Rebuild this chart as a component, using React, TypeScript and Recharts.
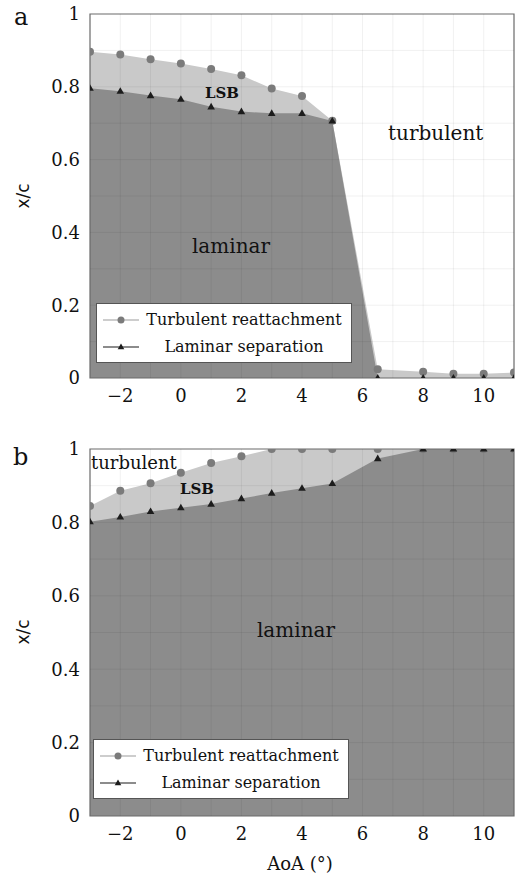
import React from "react";
import {
  ComposedChart,
  Area,
  Line,
  XAxis,
  YAxis,
  ReferenceLine,
  ReferenceArea,
} from "recharts";

// ── data ───────────────────────────────────────
const aoa = [-3, -2, -1, 0, 1, 2, 3, 4, 5, 6.5, 8, 9, 10, 11];

// panel a
const reattachA = [0.896, 0.889, 0.876, 0.864, 0.849, 0.832, 0.795, 0.775, 0.707, 0.024, 0.017, 0.012, 0.012, 0.015];
const separationA = [0.796, 0.788, 0.776, 0.766, 0.745, 0.732, 0.727, 0.727, 0.706, 0, 0, 0, 0, 0];

// panel b
const reattachB = [0.845, 0.886, 0.907, 0.935, 0.962, 0.98, 1, 1, 1, 1, 1, 1, 1, 1];
const separationB = [0.802, 0.815, 0.83, 0.84, 0.85, 0.865, 0.88, 0.893, 0.906, 0.974, 1, 1, 1, 1];

const xTicks = [-2, 0, 2, 4, 6, 8, 10];
const yTicks = [0, 0.2, 0.4, 0.6, 0.8, 1];
const gridX = [-2, -1, 0, 1, 2, 3, 4, 5, 6, 7, 8, 9, 10];
const gridY = [0.1, 0.2, 0.3, 0.4, 0.5, 0.6, 0.7, 0.8, 0.9];

const LIGHT = "#c9c9c9";
const DARK = "#8c8c8c";
const SERIF = "'DejaVu Serif', serif";

const build = (re: number[], sep: number[]) =>
  aoa.map((x, i) => ({ aoa: x, reattach: re[i], separation: sep[i] }));

const fmtX = (v: number) => (v < 0 ? `\u2212${-v}` : `${v}`);

function XTick(props: any) {
  const { x, y, payload } = props;
  return (
    <text x={x} y={y + 8} dy="0.75em" textAnchor="middle" fontSize={18} fill="#111" style={{ fontFamily: SERIF }}>
      {fmtX(payload.value)}
    </text>
  );
}

function YTick(props: any) {
  const { x, y, payload } = props;
  return (
    <text x={x - 8} y={y} dy="0.36em" textAnchor="end" fontSize={18} fill="#111" style={{ fontFamily: SERIF }}>
      {`${payload.value}`}
    </text>
  );
}

function CircleDot(props: any) {
  const { cx, cy, index } = props;
  if (cx == null || cy == null) return null;
  return <circle key={`c${index}`} cx={cx} cy={cy} r={4} fill="#7b7b7b" />;
}

function TriDot(props: any) {
  const { cx, cy, index } = props;
  if (cx == null || cy == null) return null;
  return (
    <path
      key={`t${index}`}
      d={`M${cx},${cy - 4} L${cx + 3.8},${cy + 2.6} L${cx - 3.8},${cy + 2.6} Z`}
      fill="#1c1c1c"
    />
  );
}

function Panel({
  data,
  height,
  marginTop,
  xAxisHeight,
}: {
  data: any[];
  height: number;
  marginTop: number;
  xAxisHeight: number;
}) {
  return (
    <ComposedChart
      width={516}
      height={height}
      data={data}
      margin={{ top: marginTop, right: 2, left: 0, bottom: 0 }}
    >
      <XAxis
        dataKey="aoa"
        type="number"
        domain={[-3, 11]}
        ticks={xTicks}
        allowDataOverflow
        axisLine={false}
        tickLine={false}
        tickSize={0}
        tick={<XTick />}
        height={xAxisHeight}
      />
      <YAxis
        type="number"
        domain={[0, 1]}
        ticks={yTicks}
        allowDataOverflow
        axisLine={false}
        tickLine={false}
        tickSize={0}
        width={90}
        tick={<YTick />}
      />

      <Area
        type="linear"
        dataKey="reattach"
        stroke="none"
        fill={LIGHT}
        fillOpacity={1}
        dot={false}
        activeDot={false}
        isAnimationActive={false}
      />
      <Area
        type="linear"
        dataKey="separation"
        stroke="none"
        fill={DARK}
        fillOpacity={1}
        dot={false}
        activeDot={false}
        isAnimationActive={false}
      />

      {gridX.map((g) => (
        <ReferenceLine key={`gx${g}`} x={g} stroke="#000" strokeOpacity={0.06} />
      ))}
      {gridY.map((g) => (
        <ReferenceLine key={`gy${g}`} y={g} stroke="#000" strokeOpacity={0.06} />
      ))}
      <ReferenceArea x1={-3} x2={11} y1={0} y2={1} fill="none" stroke="#6a6a6a" strokeWidth={1.2} />

      <Line
        type="linear"
        dataKey="reattach"
        stroke="none"
        dot={<CircleDot />}
        activeDot={false}
        isAnimationActive={false}
      />
      <Line
        type="linear"
        dataKey="separation"
        stroke="none"
        dot={<TriDot />}
        activeDot={false}
        isAnimationActive={false}
      />
    </ComposedChart>
  );
}

function LegendBox({ left, top }: { left: number; top: number }) {
  const row = (label: string, lineColor: string, marker: React.ReactNode) => (
    <div style={{ display: "flex", alignItems: "center", height: 27 }}>
      <svg width={40} height={14} style={{ flexShrink: 0 }}>
        <line x1={2} y1={7} x2={38} y2={7} stroke={lineColor} strokeWidth={1.5} />
        {marker}
      </svg>
      <div style={{ flex: 1, textAlign: "center", whiteSpace: "nowrap" }}>{label}</div>
    </div>
  );
  return (
    <div
      style={{
        position: "absolute",
        left,
        top,
        width: 256,
        height: 60,
        boxSizing: "border-box",
        border: "1px solid #555",
        background: "#fff",
        padding: "2px 4px 0 4px",
        fontFamily: SERIF,
        fontSize: 16,
        color: "#111",
        lineHeight: "27px",
      }}
    >
      {row("Turbulent reattachment", "#bdbdbd", <circle cx={20} cy={7} r={3.5} fill="#7b7b7b" />)}
      {row("Laminar separation", "#666", <path d="M20,3.5 L23.3,9.3 L16.7,9.3 Z" fill="#1c1c1c" />)}
    </div>
  );
}

export default function App() {
  const dataA = build(reattachA, separationA);
  const dataB = build(reattachB, separationB);
  const txt = { fill: "#111", style: { fontFamily: SERIF } } as const;

  return (
    <div style={{ position: "absolute", left: 0, top: 0, width: 516, height: 877, background: "#fff", fontFamily: SERIF }}>
      <div style={{ position: "absolute", left: 0, top: 0 }}>
        <Panel data={dataA} height={410} marginTop={14} xAxisHeight={32} />
      </div>
      <div style={{ position: "absolute", left: 0, top: 420 }}>
        <Panel data={dataB} height={457} marginTop={29} xAxisHeight={61} />
      </div>

      <LegendBox left={96} top={303} />
      <LegendBox left={93} top={739} />

      {/* annotations */}
      <svg width={516} height={877} style={{ position: "absolute", left: 0, top: 0, pointerEvents: "none" }}>
        <text x={14} y={25} fontSize={24} {...txt}>a</text>
        <text x={13} y={465} fontSize={24} {...txt}>b</text>

        <text x={23} y={196} transform="rotate(-90 23 196)" textAnchor="middle" dominantBaseline="central"
          fontSize={17} fill="#111" style={{ fontFamily: "'DejaVu Sans', sans-serif" }}>x/c</text>
        <text x={23} y={632} transform="rotate(-90 23 632)" textAnchor="middle" dominantBaseline="central"
          fontSize={17} fill="#111" style={{ fontFamily: "'DejaVu Sans', sans-serif" }}>x/c</text>

        <text x={388} y={140} fontSize={20} {...txt}>turbulent</text>
        <text x={231} y={253} fontSize={20} textAnchor="middle" {...txt}>laminar</text>
        <text x={222} y={98} fontSize={15} fontWeight="bold" textAnchor="middle" {...txt}>LSB</text>

        <text x={91} y={469} fontSize={18} {...txt}>turbulent</text>
        <text x={197} y={494} fontSize={15} fontWeight="bold" textAnchor="middle" {...txt}>LSB</text>
        <text x={296} y={637} fontSize={20} textAnchor="middle" {...txt}>laminar</text>

        <text x={300} y={870} fontSize={18} textAnchor="middle" {...txt}>AoA (°)</text>
      </svg>
    </div>
  );
}
